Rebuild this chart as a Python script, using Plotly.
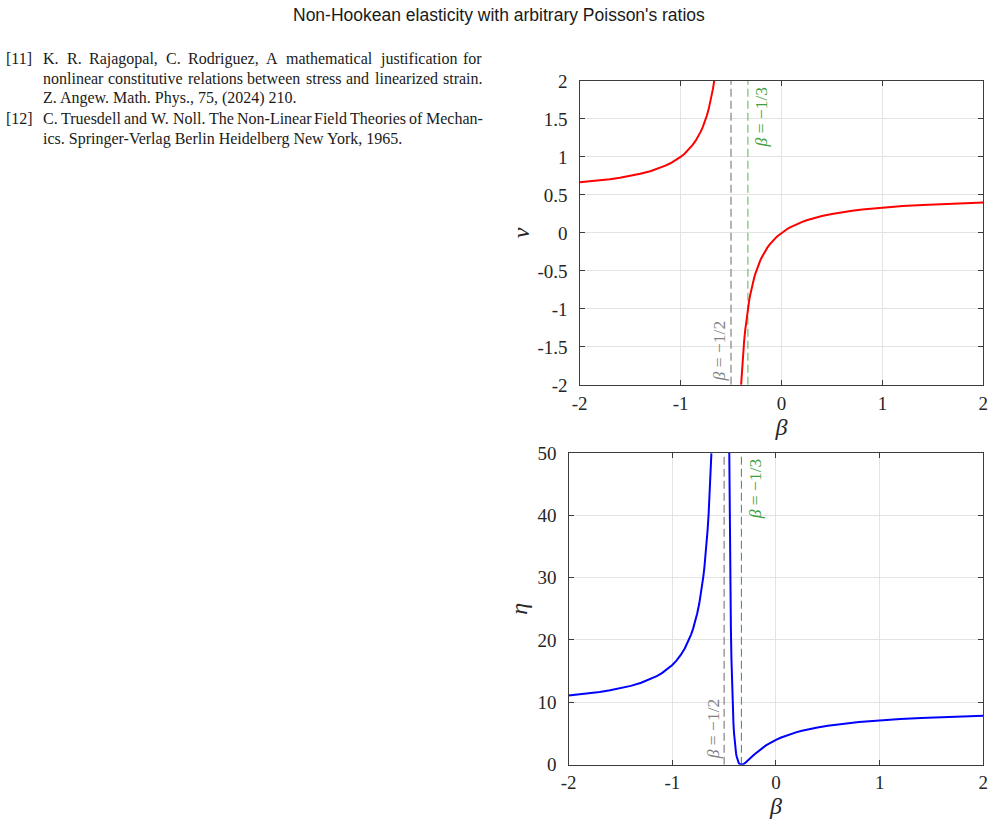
import plotly.graph_objects as go

# ---------------- data ----------------
beta_nu_left = [-2.0, -1.9, -1.8, -1.7, -1.6, -1.5, -1.4, -1.3, -1.2, -1.15, -1.1, -1.05,
                -1.0, -0.96, -0.92, -0.88, -0.85, -0.82, -0.80, -0.78, -0.76, -0.74,
                -0.72, -0.71, -0.70, -0.69, -0.68, -0.673, -0.6667]
nu_left = [0.667, 0.679, 0.692, 0.708, 0.727, 0.75, 0.778, 0.8125, 0.857, 0.885, 0.917, 0.955,
           1.0, 1.043, 1.095, 1.158, 1.214, 1.281, 1.333, 1.393, 1.462, 1.542,
           1.636, 1.690, 1.75, 1.816, 1.889, 1.945, 2.0]

beta_nu_right = [-0.40, -0.395, -0.39, -0.385, -0.38, -0.37, -0.36, -0.35, -0.34, -0.33,
                 -0.32, -0.31, -0.30, -0.29, -0.28, -0.27, -0.26, -0.25, -0.24, -0.23,
                 -0.22, -0.21, -0.20, -0.18, -0.16, -0.14, -0.12, -0.10, -0.08, -0.06,
                 -0.04, -0.02, 0.0, 0.02, 0.04, 0.06, 0.08, 0.10, 0.13, 0.16, 0.2, 0.25,
                 0.3, 0.35, 0.4, 0.5, 0.6, 0.7, 0.8, 0.9, 1.0, 1.2, 1.4, 1.6, 1.8, 2.0]
nu_right = [-2.0, -1.881, -1.773, -1.674, -1.583, -1.423, -1.286, -1.167, -1.0625, -0.971,
            -0.889, -0.816, -0.750, -0.690, -0.636, -0.587, -0.542, -0.5, -0.462, -0.426,
            -0.393, -0.362, -0.333, -0.281, -0.235, -0.194, -0.158, -0.125, -0.095, -0.068,
            -0.043, -0.021, 0.0, 0.019, 0.037, 0.054, 0.069, 0.083, 0.103, 0.121, 0.143, 0.167,
            0.1875, 0.206, 0.222, 0.25, 0.273, 0.292, 0.308, 0.321, 0.333, 0.353, 0.368, 0.381,
            0.391, 0.4]

beta_eta_left = [-2.0, -1.9, -1.8, -1.7, -1.6, -1.5, -1.4, -1.3, -1.2, -1.15, -1.1, -1.05,
                 -1.0, -0.96, -0.92, -0.88, -0.85, -0.82, -0.80, -0.78, -0.76, -0.74,
                 -0.72, -0.71, -0.70, -0.69, -0.68, -0.67, -0.66, -0.65, -0.64, -0.635,
                 -0.63, -0.626, -0.623]
eta_left = [11.11, 11.27, 11.46, 11.67, 11.93, 12.25, 12.64, 13.14, 13.80, 14.21, 14.69, 15.28,
            16.0, 16.70, 17.56, 18.63, 19.61, 20.82, 21.78, 22.90, 24.24, 25.84,
            27.80, 28.96, 30.25, 31.71, 33.38, 35.30, 37.52, 40.11, 43.18, 44.94,
            46.87, 48.56, 49.92]

beta_eta_right = [-0.4504, -0.448, -0.445, -0.4425, -0.44, -0.435, -0.43, -0.425, -0.42,
                  -0.415, -0.41, -0.405, -0.40, -0.395, -0.39, -0.385, -0.38, -0.375, -0.37,
                  -0.365, -0.36, -0.355, -0.35, -0.345, -0.34, -0.3333, -0.325, -0.32,
                  -0.31, -0.30, -0.29, -0.28, -0.27, -0.26, -0.25, -0.24, -0.22, -0.20,
                  -0.18, -0.16, -0.14, -0.12, -0.10, -0.08, -0.06, -0.04, -0.02, 0.0,
                  0.05, 0.1, 0.15, 0.2, 0.25, 0.3, 0.4, 0.5, 0.6, 0.7, 0.8, 0.9, 1.0,
                  1.2, 1.4, 1.6, 1.8, 2.0]
eta_right = [50.0, 43.76, 37.09, 32.44, 28.44, 22.01, 17.16, 13.44, 10.56,
             8.31, 6.53, 5.12, 4.0, 3.10, 2.39, 1.82, 1.36, 1.0, 0.716,
             0.495, 0.327, 0.201, 0.111, 0.051, 0.0156, 0.0, 0.0204, 0.049,
             0.136, 0.25, 0.383, 0.529, 0.682, 0.840, 1.0, 1.160, 1.474, 1.778,
             2.066, 2.339, 2.596, 2.837, 3.0625, 3.274, 3.473, 3.660, 3.835, 4.0,
             4.372, 4.694, 4.976, 5.224, 5.444, 5.641, 5.975, 6.25, 6.479, 6.674, 6.840,
             6.985, 7.111, 7.322, 7.490, 7.628, 7.743, 7.84]

beta_marks = [-0.5, -1 / 3]
mark_labels = ["<i>β</i> = −1/2", "<i>β</i> = −1/3"]

x_ticks = [-2, -1, 0, 1, 2]
x_ticktext = ["-2", "-1", "0", "1", "2"]
nu_ticks = [-2, -1.5, -1, -0.5, 0, 0.5, 1, 1.5, 2]
nu_ticktext = ["-2", "-1.5", "-1", "-0.5", "0", "0.5", "1", "1.5", "2"]
eta_ticks = [0, 10, 20, 30, 40, 50]
eta_ticktext = ["0", "10", "20", "30", "40", "50"]

title_text = "Non-Hookean elasticity with arbitrary Poisson's ratios"
ref_lines = [
    ("[11]", "K. R. Rajagopal, C. Rodriguez, A mathematical justification for", True),
    ("", "nonlinear constitutive relations between stress and linearized strain.", True),
    ("", "Z. Angew. Math. Phys., 75, (2024) 210.", False),
    ("[12]", "C. Truesdell and W. Noll. The Non-Linear Field Theories of Mechan-", True),
    ("", "ics. Springer-Verlag Berlin Heidelberg New York, 1965.", False),
]

# ---------------- figure ----------------
W, H = 995, 832
SERIF = "Liberation Serif"
# the page is shown with a small offset and slight shrink; positions below are
# target pixels in the final picture, mapped back to figure pixels here.
SX, AX = 0.9876, 7.0
SY, AY = 0.9751, 9.0

def px_x(p):
    return ((p - AX) / SX) / W

def px_y(p):
    return 1 - ((p - AY) / SY) / H

fig = go.Figure()

gray = "rgb(140,140,140)"
green_top = "rgba(60,170,60,0.55)"
green_bot = "rgb(70,160,70)"
for xa, ya, yr, gcol, gw in [("x", "y", [-2, 2], green_top, 1.6), ("x2", "y2", [0, 50], green_bot, 1.1)]:
    fig.add_trace(go.Scatter(x=[beta_marks[0]] * 2, y=yr, xaxis=xa, yaxis=ya, mode="lines",
                             line=dict(color=gray, width=1.3, dash="8px,4px"),
                             showlegend=False, hoverinfo="skip"))
    fig.add_trace(go.Scatter(x=[beta_marks[1]] * 2, y=yr, xaxis=xa, yaxis=ya, mode="lines",
                             line=dict(color=gcol, width=gw, dash="8px,4px"),
                             showlegend=False, hoverinfo="skip"))

fig.add_trace(go.Scatter(x=beta_nu_left, y=nu_left, xaxis="x", yaxis="y", mode="lines",
                         line=dict(color="#ff0000", width=2), showlegend=False))
fig.add_trace(go.Scatter(x=beta_nu_right, y=nu_right, xaxis="x", yaxis="y", mode="lines",
                         line=dict(color="#ff0000", width=2), showlegend=False))
fig.add_trace(go.Scatter(x=beta_eta_left, y=eta_left, xaxis="x2", yaxis="y2", mode="lines",
                         line=dict(color="#0000ff", width=2), showlegend=False))
fig.add_trace(go.Scatter(x=beta_eta_right, y=eta_right, xaxis="x2", yaxis="y2", mode="lines",
                         line=dict(color="#0000ff", width=2), showlegend=False))

axis_common = dict(showline=True, linecolor="#3c3c3c", linewidth=1.4, mirror="allticks",
                   ticks="inside", ticklen=5, tickcolor="#3c3c3c", tickwidth=1,
                   showgrid=True, gridcolor="#e3e3e3", gridwidth=1, zeroline=False,
                   ticklabeloverflow="allow",
                   tickfont=dict(family=SERIF, size=19, color="#262626"))
title_font = dict(family=SERIF, size=24, color="#262626")

fig.update_layout(
    width=W, height=H,
    margin=dict(l=0, r=0, t=0, b=0),
    paper_bgcolor="white", plot_bgcolor="white",
    showlegend=False,
    xaxis=dict(domain=[px_x(579), px_x(983)], anchor="y", range=[-2, 2], tickvals=x_ticks,
               ticktext=x_ticktext, ticklabelstandoff=1,
               title=dict(text="<i>β</i>", font=title_font, standoff=4), **axis_common),
    yaxis=dict(domain=[px_y(384), px_y(80)], anchor="x", range=[-2, 2], tickvals=nu_ticks,
               ticktext=nu_ticktext, ticklabelstandoff=7,
               title=dict(text="<i>ν</i>", font=title_font, standoff=1), **axis_common),
    xaxis2=dict(domain=[px_x(568), px_x(983)], anchor="y2", range=[-2, 2], tickvals=x_ticks,
                ticktext=x_ticktext, ticklabelstandoff=0,
                title=dict(text="<i>β</i>", font=title_font, standoff=4), **axis_common),
    yaxis2=dict(domain=[px_y(764), px_y(452)], anchor="x2", range=[0, 50], tickvals=eta_ticks,
                ticktext=eta_ticktext, ticklabelstandoff=7,
                title=dict(text="<i>η</i>", font=title_font, standoff=3), **axis_common),
)

annotations = []
annotations.append(dict(text=title_text, xref="paper", yref="paper", x=px_x(498), y=px_y(14),
                        xanchor="center", yanchor="middle", showarrow=False,
                        font=dict(family="Liberation Sans", size=17.5, color="#1a1a1a")))

for cx, cy, txt_, col in [(718, 350, mark_labels[0], "rgb(130,130,130)"),
                          (760, 116, mark_labels[1], "rgb(60,160,60)"),
                          (712, 728, mark_labels[0], "rgb(130,130,130)"),
                          (754, 488, mark_labels[1], "rgb(60,160,60)")]:
    annotations.append(dict(text=txt_, xref="paper", yref="paper", x=px_x(cx), y=px_y(cy),
                            xanchor="center", yanchor="middle", textangle=-90, showarrow=False,
                            font=dict(family=SERIF, size=17.5, color=col)))

# reference list, justified like the source page (Times advance widths, per 1000 em)
TIMES = {" ": 250, ".": 250, ",": 250, "-": 333, "(": 333, ")": 333}
TIMES.update({c: 500 for c in "0123456789"})
TIMES.update(dict(zip("abcdefghijklmnopqrstuvwxyz",
                      [444, 500, 444, 500, 444, 333, 500, 500, 278, 278, 500, 278, 778,
                       500, 500, 500, 500, 333, 389, 278, 500, 500, 722, 500, 500, 444])))
TIMES.update(dict(zip("ABCDEFGHIJKLMNOPQRSTUVWXYZ",
                      [722, 667, 667, 722, 611, 556, 722, 722, 333, 389, 722, 611, 889,
                       722, 722, 556, 722, 667, 556, 611, 722, 722, 944, 722, 722, 611])))
REF_SIZE = 16
LEFT, RIGHT = 42.0, 481.0
PAD = 2  # annotation text inset
ref_font = dict(family=SERIF, size=REF_SIZE, color="#1a1a1a")

def word_w(w):
    # on-screen width of a word
    return sum(TIMES.get(c, 500) for c in w) * REF_SIZE / 1000.0 * SX

def put(s, x, y):
    annotations.append(dict(text=s, xref="paper", yref="paper", x=px_x(x - PAD), y=px_y(y),
                            xanchor="left", yanchor="middle", showarrow=False, font=ref_font))

line_y = [58, 78, 97, 118, 138]
for (tag, line, justify), y in zip(ref_lines, line_y):
    if tag:
        put(tag, 5, y)
    if justify:
        words = line.split(" ")
        gap = (RIGHT - LEFT - sum(word_w(w) for w in words)) / (len(words) - 1)
        x = LEFT
        for w in words:
            put(w, x, y)
            x += word_w(w) + gap
    else:
        put(line, LEFT, y)

fig.update_layout(annotations=annotations)

fig.write_html("out.html")
